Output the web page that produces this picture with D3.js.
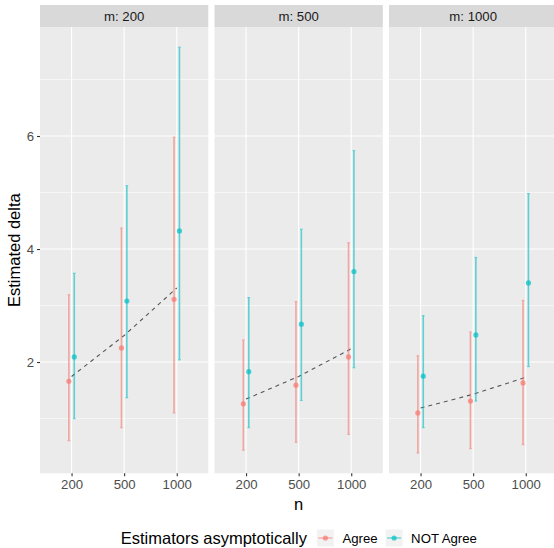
<!DOCTYPE html>
<html lang="en">
<head>
<meta charset="UTF-8">
<title>Estimated delta</title>
<script src="https://d3js.org/d3.v7.min.js"></script>
<style>
  body { margin: 0; background: #fff; }
  svg text { font-family: "Liberation Sans", Arial, Helvetica, sans-serif; }
</style>
</head>
<body>
<svg id="chart" width="554" height="548"></svg>
<script>
// data
var panels = ["m: 200", "m: 500", "m: 1000"];
var nLevels = ["200", "500", "1000"];
var groups = ["Agree", "NOT Agree"];
var colors = ["#F8766D", "#00BFC4"];

// per panel, per n: [Agree, NOT Agree]
var estMid = [
  [[1.66, 2.09], [2.25, 3.08], [3.11, 4.32]],
  [[1.26, 1.83], [1.59, 2.67], [2.09, 3.60]],
  [[1.10, 1.75], [1.31, 2.48], [1.63, 3.40]]
];
var estLow = [
  [[0.61, 1.00], [0.84, 1.37], [1.10, 2.04]],
  [[0.44, 0.84], [0.58, 1.32], [0.72, 1.90]],
  [[0.39, 0.84], [0.47, 1.31], [0.54, 1.92]]
];
var estHigh = [
  [[3.19, 3.57], [4.37, 5.12], [5.98, 7.57]],
  [[2.39, 3.14], [3.07, 4.35], [4.11, 5.74]],
  [[2.11, 2.82], [2.53, 3.85], [3.09, 4.98]]
];
// dashed reference line per panel
var refLine = [
  [1.745, 2.47, 3.31],
  [1.345, 1.745, 2.235],
  [1.185, 1.43, 1.73]
];
var yTicks = [2, 4, 6];
var yMinor = [1, 3, 5, 7];

const svg = d3.select("#chart");

const panelTop = 27, panelBottom = 473.3, stripTop = 5;
const panelLeft = 40, panelW = 168.3, panelGap = 6.2;
const dodge = 2.7;
const smallFont = 13.2, bigFont = 16.5;

// y scale with ggplot style 5% expansion
var allVals = d3.merge([estLow.flat(2), estHigh.flat(2)]);
var lo = d3.min(allVals), hi = d3.max(allVals);
var pad = (hi - lo) * 0.05;
const yScale = d3.scaleLinear()
  .domain([lo - pad, hi + pad])
  .range([panelBottom, panelTop]);

panels.forEach(function(title, p) {
  var x0 = panelLeft + p * (panelW + panelGap);
  var xScale = d3.scalePoint()
    .domain(nLevels)
    .range([x0, x0 + panelW])
    .padding(0.6);

  var g = svg.append("g");

  // background
  g.append("rect")
    .attr("x", x0).attr("y", panelTop)
    .attr("width", panelW).attr("height", panelBottom - panelTop)
    .attr("fill", "#EBEBEB");

  // strip
  g.append("rect")
    .attr("x", x0).attr("y", stripTop)
    .attr("width", panelW).attr("height", panelTop - stripTop)
    .attr("fill", "#D9D9D9");
  g.append("text")
    .attr("x", x0 + panelW / 2).attr("y", (stripTop + panelTop) / 2)
    .attr("text-anchor", "middle").attr("dy", "0.35em")
    .attr("font-size", smallFont).attr("fill", "#1A1A1A")
    .text(title);

  // grid
  yMinor.forEach(function(v) {
    g.append("line")
      .attr("x1", x0).attr("x2", x0 + panelW)
      .attr("y1", yScale(v)).attr("y2", yScale(v))
      .attr("stroke", "#fff").attr("stroke-width", 0.55);
  });
  yTicks.forEach(function(v) {
    g.append("line")
      .attr("x1", x0).attr("x2", x0 + panelW)
      .attr("y1", yScale(v)).attr("y2", yScale(v))
      .attr("stroke", "#fff").attr("stroke-width", 1.1);
  });
  nLevels.forEach(function(n) {
    g.append("line")
      .attr("x1", xScale(n)).attr("x2", xScale(n))
      .attr("y1", panelTop).attr("y2", panelBottom)
      .attr("stroke", "#fff").attr("stroke-width", 1.1);
  });

  // x axis ticks + labels
  var xa = g.append("g")
    .attr("transform", `translate(0, ${panelBottom})`)
    .call(d3.axisBottom(xScale).tickSize(3).tickPadding(3));
  xa.select(".domain").remove();
  xa.selectAll("line").attr("stroke", "#333").attr("stroke-width", 1.1);
  xa.selectAll("text").attr("font-size", smallFont).attr("fill", "#4D4D4D")
    .attr("font-family", "Liberation Sans, Arial, sans-serif");

  // dashed line
  var line = d3.line().x((d, i) => xScale(nLevels[i])).y(d => yScale(d));
  g.append("path")
    .datum(refLine[p])
    .attr("d", line)
    .attr("fill", "none")
    .attr("stroke", "#555")
    .attr("stroke-width", 1.1)
    .attr("stroke-dasharray", "4,4");

  // error bars and points
  nLevels.forEach(function(n, i) {
    groups.forEach(function(grp, k) {
      var cx = xScale(n) + (k === 0 ? -dodge : dodge);
      var col = colors[k];
      var eg = g.append("g").attr("opacity", 0.6);
      eg.append("line")
        .attr("x1", cx).attr("x2", cx)
        .attr("y1", yScale(estLow[p][i][k])).attr("y2", yScale(estHigh[p][i][k]))
        .attr("stroke", col).attr("stroke-width", 1.6);
      [estLow[p][i][k], estHigh[p][i][k]].forEach(function(v) {
        eg.append("line")
          .attr("x1", cx - 1.3).attr("x2", cx + 1.3)
          .attr("y1", yScale(v)).attr("y2", yScale(v))
          .attr("stroke", col).attr("stroke-width", 1.2);
      });
      g.append("circle")
        .attr("cx", cx).attr("cy", yScale(estMid[p][i][k]))
        .attr("r", 2.6)
        .attr("fill", col).attr("opacity", 0.7);
    });
  });
});

// y axis (left panel only)
var ya = svg.append("g")
  .attr("transform", `translate(${panelLeft}, 0)`)
  .call(d3.axisLeft(yScale).tickValues(yTicks).tickSize(3).tickPadding(3));
ya.select(".domain").remove();
ya.selectAll("line").attr("stroke", "#333").attr("stroke-width", 1.1);
ya.selectAll("text").attr("font-size", smallFont).attr("fill", "#4D4D4D")
  .attr("font-family", "Liberation Sans, Arial, sans-serif");

// axis titles
svg.append("text")
  .attr("transform", `translate(20, ${(panelTop + panelBottom) / 2}) rotate(-90)`)
  .attr("text-anchor", "middle")
  .attr("font-size", bigFont).attr("fill", "#000")
  .text("Estimated delta");

svg.append("text")
  .attr("x", 298.6).attr("y", 510)
  .attr("text-anchor", "middle")
  .attr("font-size", bigFont).attr("fill", "#000")
  .text("n");

// legend
var legend = svg.append("g");
var legY = 538;
var lt = legend.append("text")
  .attr("x", 0).attr("y", legY)
  .attr("dy", "0.35em")
  .attr("font-size", bigFont).attr("fill", "#000")
  .text("Estimators asymptotically");
var cur = lt.node().getComputedTextLength() + 10;
groups.forEach(function(grp, k) {
  legend.append("rect")
    .attr("x", cur).attr("y", legY - 8.5)
    .attr("width", 17).attr("height", 17)
    .attr("fill", "#F2F2F2");
  legend.append("line")
    .attr("x1", cur + 1.5).attr("x2", cur + 15.5)
    .attr("y1", legY).attr("y2", legY)
    .attr("stroke", colors[k]).attr("stroke-width", 1.3).attr("opacity", 0.6);
  legend.append("circle")
    .attr("cx", cur + 8.5).attr("cy", legY).attr("r", 2.6)
    .attr("fill", colors[k]).attr("opacity", 0.7);
  cur += 17 + 8.5;
  var t = legend.append("text")
    .attr("x", cur).attr("y", legY)
    .attr("dy", "0.35em")
    .attr("font-size", smallFont).attr("fill", "#000")
    .text(grp);
  cur += t.node().getComputedTextLength() + 8;
});
cur -= 8;
legend.attr("transform", `translate(${298.8 - cur / 2}, 0)`);
</script>
</body>
</html>
